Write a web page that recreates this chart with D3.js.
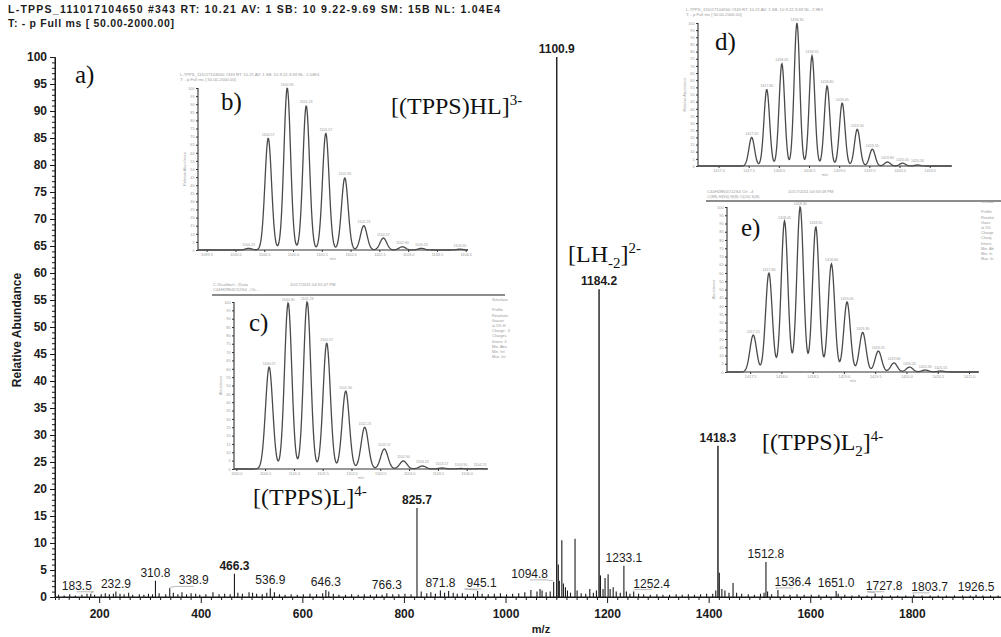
<!DOCTYPE html>
<html>
<head>
<meta charset="utf-8">
<script src="https://cdn.jsdelivr.net/npm/d3@7"></script>
<style>
body { margin: 0; background: #fff; }
svg { display: block; font-family: "Liberation Sans", Arial, sans-serif; }
</style>
</head>
<body>
<svg id="svg" width="1001" height="637"></svg>
<script>
// Full scan spectrum: centroid m/z and relative abundance
var peakMz = [120, 131, 142, 153, 166, 176, 183.5, 191, 204, 212, 220, 228, 232.9, 241, 249, 258, 266, 279, 288, 297, 305,
    310.8, 318, 331, 338.9, 346, 355, 363, 372, 381, 390, 398, 410, 424, 436, 447, 458, 466.3, 473, 482, 495, 502, 510,
    521, 530, 536.9, 545, 555, 566, 578, 590, 602, 615, 628, 640, 646.3, 652, 661, 672, 685, 697, 710, 722, 734, 746,
    757, 766.3, 778, 790, 802, 814, 825.7, 834, 845, 853, 862, 871.8, 880, 888, 897, 905, 915, 925, 937, 945.1, 954,
    966, 978, 990, 1002, 1014, 1026, 1038, 1050, 1062, 1068, 1072, 1080, 1088, 1094.8, 1100.9, 1104, 1106, 1110.9,
    1114, 1118, 1122, 1128, 1136.9, 1141, 1149, 1158, 1166, 1173, 1179, 1184.2, 1187, 1192, 1196, 1202, 1206, 1212,
    1218, 1226, 1233.1, 1238, 1245, 1252.4, 1262, 1272, 1285, 1298, 1310, 1323, 1336, 1348, 1360, 1372, 1384, 1396,
    1408, 1414, 1418.3, 1421, 1426, 1432, 1440, 1448, 1455, 1465, 1478, 1490, 1502, 1509, 1512.8, 1516, 1524, 1536.4,
    1548, 1560, 1574, 1588, 1602, 1617, 1632, 1651.0, 1655, 1668, 1682, 1696, 1712, 1727.8, 1742, 1758, 1772, 1788,
    1803.7, 1820, 1836, 1852, 1868, 1884, 1900, 1915, 1926.5, 1940, 1955, 1970, 1985];
var peakAbundance = [0.4, 0.3, 0.5, 0.3, 0.4, 0.6, 0.6, 0.4, 0.5, 0.7, 0.5, 0.6, 1.0, 0.6, 0.5, 0.8, 0.4, 0.5, 0.4, 0.6, 0.5,
    3.0, 0.7, 0.5, 1.6, 0.8, 0.5, 0.9, 0.5, 0.7, 0.6, 0.4, 0.5, 0.9, 0.5, 0.6, 0.5, 4.3, 0.8, 0.6, 0.9, 0.8, 0.6,
    0.5, 0.8, 1.6, 0.9, 0.5, 0.4, 0.5, 0.4, 0.5, 0.6, 0.5, 0.7, 1.3, 1.0, 0.6, 0.4, 0.4, 0.5, 0.4, 0.5, 0.4, 0.5,
    0.4, 0.7, 0.5, 0.5, 0.6, 0.5, 16.5, 1.0, 0.7, 0.9, 0.6, 1.2, 0.8, 1.1, 0.8, 0.6, 0.7, 0.5, 0.6, 1.1, 0.6,
    0.5, 0.6, 0.7, 0.5, 0.6, 0.7, 0.9, 1.3, 1.0, 1.5, 1.2, 0.9, 1.0, 2.8, 100, 6, 3, 10.5,
    2.5, 1.8, 1.2, 0.8, 10.8, 1.2, 0.7, 0.6, 1.5, 0.8, 1.2, 57, 4, 1.5, 3.5, 4.2, 1.5, 1.8,
    1.0, 0.8, 5.8, 1.0, 0.6, 1.0, 0.6, 0.5, 0.4, 0.5, 0.4, 0.4, 0.5, 0.4, 0.5, 0.4, 0.5, 0.6,
    0.6, 1.2, 28, 4.5, 1.5, 1.2, 0.8, 2.6, 0.8, 0.6, 0.5, 0.4, 0.6, 0.8, 6.5, 1.0, 0.5, 1.3,
    0.4, 0.4, 0.5, 0.4, 0.4, 0.4, 0.4, 1.1, 0.6, 0.4, 0.3, 0.4, 0.3, 0.6, 0.3, 0.3, 0.3, 0.3,
    0.4, 0.3, 0.3, 0.3, 0.3, 0.3, 0.3, 0.3, 0.4, 0.3, 0.3, 0.3, 0.3];

// Labelled peaks
var labelMz = [183.5, 232.9, 310.8, 338.9, 466.3, 536.9, 646.3, 766.3, 825.7, 871.8, 945.1, 1094.8, 1100.9, 1184.2,
    1233.1, 1252.4, 1418.3, 1512.8, 1536.4, 1651.0, 1727.8, 1803.7, 1926.5];
var boldLabels = [466.3, 825.7, 1100.9, 1184.2, 1418.3];

// Axis ticks
var yTicks = d3.range(0, 101, 5);
var xTicks = [200, 400, 600, 800, 1000, 1200, 1400, 1600, 1800];

// Insets: isotope patterns (centroid m/z, relative intensity)
var isoB_mz = [1100.23, 1100.57, 1100.90, 1101.23, 1101.57, 1101.90, 1102.23, 1102.57, 1102.90, 1103.23, 1103.90];
var isoB_int = [1, 69, 100, 89, 72, 44.5, 15, 7.4, 2, 1, 0.5];
var isoC_mz = [1100.57, 1100.90, 1101.23, 1101.57, 1101.90, 1102.23, 1102.57, 1102.90, 1103.23, 1103.57, 1103.90, 1104.23];
var isoC_int = [61, 99.4, 100, 75.4, 46.7, 25, 12, 4.8, 1.8, 0.6, 0.3, 0.2];
var isoD_mz = [1417.55, 1417.80, 1418.05, 1418.30, 1418.55, 1418.80, 1419.05, 1419.30, 1419.55, 1419.80, 1420.05, 1420.30];
var isoD_int = [20, 53.5, 71.5, 100, 77, 56, 44, 25.7, 11.8, 2.8, 2, 0.7];
var isoE_mz = [1417.55, 1417.80, 1418.05, 1418.30, 1418.55, 1418.80, 1419.05, 1419.30, 1419.55, 1419.80, 1420.05, 1420.30, 1420.55];
var isoE_int = [22.4, 60, 91.5, 100, 88, 65.5, 42.4, 24, 12.7, 5.5, 3, 1.2, 0.6];

// label nudges (pixels) where the instrument moved a label off its peak
var labelShift = { "183.5": -14, "338.9": 24, "945.1": 4, "1094.8": -24, "1252.4": 18, "1536.4": 15, "1727.8": 9, "1803.7": 16 };

var svg = d3.select("svg");
var ink = "#1b1b1b";

// Main scales
var x = d3.scaleLinear().domain([113, 2000]).range([55, 1013.4]);
var y = d3.scaleLinear().domain([0, 100]).range([597, 57]);

/*
HEADER
*/
svg.append("text").attr("x", 8).attr("y", 13).attr("font-size", 10.5).attr("font-weight", "bold").attr("fill", ink)
    .attr("textLength", 492).attr("lengthAdjust", "spacing")
    .text("L-TPPS_111017104650 #343   RT: 10.21   AV: 1   SB: 10  9.22-9.69   SM: 15B   NL: 1.04E4");
svg.append("text").attr("x", 8).attr("y", 27).attr("font-size", 10.5).attr("font-weight", "bold").attr("fill", ink)
    .attr("textLength", 166).attr("lengthAdjust", "spacing")
    .text("T: - p Full ms [ 50.00-2000.00]");

/*
AXES
*/
var yAxis = svg.append("g").attr("transform", "translate(55,0)")
    .call(d3.axisLeft(y).tickValues(yTicks).tickSize(5).tickPadding(3));
svg.append("g").attr("transform", "translate(55,0)")
    .call(d3.axisLeft(y).tickValues(d3.range(0, 101, 1).filter(function (d) { return d % 5; })).tickSize(3).tickFormat(""));

var xAxis = svg.append("g").attr("transform", "translate(0,597)")
    .call(d3.axisBottom(x).tickValues(xTicks).tickSize(6).tickPadding(6).tickFormat(d3.format("d")));
svg.append("g").attr("transform", "translate(0,597)")
    .call(d3.axisBottom(x).tickValues(d3.range(120, 2000, 20).filter(function (d) { return d % 200; })).tickSize(3).tickFormat(""));

svg.selectAll(".domain").attr("stroke", ink).attr("stroke-width", 1);
svg.selectAll(".tick line").attr("stroke", ink);
svg.selectAll(".tick text").attr("fill", ink).attr("font-size", 12).attr("font-weight", "bold")
    .attr("font-family", "Liberation Sans, Arial, sans-serif");
// strip outer ticks of the domain path
yAxis.select(".domain").attr("d", "M0," + y(100) + "V" + y(0));
xAxis.select(".domain").attr("d", "M55,0H1001");

svg.append("text").attr("transform", "translate(21,330) rotate(-90)").attr("text-anchor", "middle")
    .attr("font-size", 12).attr("font-weight", "bold").attr("fill", ink).text("Relative Abundance");
svg.append("text").attr("x", 541).attr("y", 633).attr("text-anchor", "middle")
    .attr("font-size", 11).attr("font-weight", "bold").attr("fill", ink).text("m/z");

/*
SPECTRUM
*/
var sticks = svg.append("g");
for (var i = 0; i < peakMz.length; i++) {
    sticks.append("line")
        .attr("x1", x(peakMz[i])).attr("x2", x(peakMz[i]))
        .attr("y1", y(0)).attr("y2", y(peakAbundance[i]))
        .attr("stroke", ink).attr("stroke-width", peakAbundance[i] > 20 ? 1.4 : 1.1);
}

// peak labels
for (var j = 0; j < labelMz.length; j++) {
    var m = labelMz[j];
    var a = peakAbundance[peakMz.indexOf(m)];
    var key = m.toFixed(1);
    var dx = labelShift[key] || 0;
    var px = x(m), py = y(a);
    if (dx !== 0) {
        var lx = px + dx + (dx > 0 ? -17 : 17);
        svg.append("polyline")
            .attr("points", px + "," + (py - 1) + " " + lx + "," + (py - 2) + " " + (px + dx) + "," + (py - 2))
            .attr("fill", "none").attr("stroke", "#aaa").attr("stroke-width", 0.8);
    }
    svg.append("text")
        .attr("x", px + dx).attr("y", py - 4)
        .attr("text-anchor", "middle")
        .attr("font-size", 12)
        .attr("font-weight", boldLabels.indexOf(m) >= 0 ? "bold" : "normal")
        .attr("fill", ink)
        .text(key);
}

/*
ANNOTATIONS
*/
function ionLabel(xp, yp, parts) {
    var t = svg.append("text").attr("x", xp).attr("y", yp)
        .attr("font-family", "Liberation Serif, Times New Roman, serif").attr("font-size", 24).attr("fill", "#111");
    var shift = 0;
    parts.forEach(function (p) {
        var dy = (p[1] === "sup" ? -9 : p[1] === "sub" ? 6 : 0) - shift;
        shift += dy;
        t.append("tspan").attr("dy", dy).attr("font-size", p[1] ? 15 : 24).text(p[0]);
    });
}
ionLabel(391, 114, [["[(TPPS)HL]"], ["3-", "sup"]]);
ionLabel(568, 262, [["[LH"], ["-2", "sub"], ["]"], ["2-", "sup"]]);
ionLabel(762, 450, [["[(TPPS)L"], ["2", "sub"], ["]"], ["4-", "sup"]]);
ionLabel(253, 505, [["[(TPPS)L]"], ["4-", "sup"]]);

function panelLetter(xp, yp, s) {
    svg.append("text").attr("x", xp).attr("y", yp)
        .attr("font-family", "Liberation Serif, Times New Roman, serif").attr("font-size", 25).attr("fill", "#111").text(s);
}
panelLetter(75, 83, "a)");

/*
INSETS
*/
function drawInset(o) {
    var g = svg.append("g");
    var ix = d3.scaleLinear().domain(o.domain).range([o.left, o.right]);
    var iy = d3.scaleLinear().domain([0, 100]).range([o.bottom, o.top]);
    var grey = "#9a9a9a";

    // titles
    o.title.forEach(function (s, k) {
        g.append("text").attr("x", s[0]).attr("y", s[1]).attr("font-size", 4.2).attr("fill", grey).text(s[2]);
    });
    if (o.rule) {
        g.append("line").attr("x1", o.rule[0]).attr("x2", o.rule[1]).attr("y1", o.rule[2]).attr("y2", o.rule[2])
            .attr("stroke", "#666").attr("stroke-width", 1.4);
    }
    if (o.notes) {
        o.notes.lines.forEach(function (s, k) {
            g.append("text").attr("x", o.notes.x).attr("y", o.notes.y + k * 5.2).attr("font-size", 3.8).attr("fill", grey).text(s);
        });
    }

    // axes
    var ya = g.append("g").attr("transform", "translate(" + o.left + ",0)")
        .call(d3.axisLeft(iy).tickValues(d3.range(0, 101, 5)).tickSize(2).tickPadding(1.5));
    var xa = g.append("g").attr("transform", "translate(0," + o.bottom + ")")
        .call(d3.axisBottom(ix).ticks(9).tickSize(2).tickPadding(1.5).tickFormat(d3.format(".1f")));
    g.selectAll(".domain").attr("stroke", "#333").attr("stroke-width", 1.1);
    ya.select(".domain").attr("d", "M0," + o.top + "V" + o.bottom);
    xa.select(".domain").attr("d", "M" + o.left + ",0H" + o.right);
    g.selectAll(".tick line").attr("stroke", "#333");
    g.selectAll(".tick text").attr("font-size", 3.8).attr("fill", grey).attr("font-weight", "normal");
    g.append("text").attr("transform", "translate(" + (o.left - 12) + "," + ((o.top + o.bottom) / 2) + ") rotate(-90)")
        .attr("text-anchor", "middle").attr("font-size", 3.8).attr("fill", grey).text(o.yTitle);
    g.append("text").attr("x", (o.left + o.right) / 2).attr("y", o.bottom + 10)
        .attr("text-anchor", "middle").attr("font-size", 3.8).attr("fill", grey).text("m/z");

    // profile built from centroid peaks
    var pxPerUnit = (o.right - o.left) / (o.domain[1] - o.domain[0]);
    var sigma = o.sigmaPx / pxPerUnit;
    var samples = d3.range(o.domain[0], o.domain[1], 0.5 / pxPerUnit);
    var profile = samples.map(function (mz) {
        var s = 0;
        for (var k = 0; k < o.mz.length; k++) {
            var d = mz - o.mz[k];
            s += o.int[k] * Math.exp(-d * d / (2 * sigma * sigma));
        }
        return [mz, Math.min(s, 100)];
    });
    g.append("path").datum(profile)
        .attr("d", d3.line().x(function (d) { return ix(d[0]); }).y(function (d) { return iy(d[1]); }))
        .attr("fill", "none").attr("stroke", "#4a4a4a").attr("stroke-width", 1.3);

    // peak labels
    for (var k = 0; k < o.mz.length; k++) {
        g.append("text").attr("x", ix(o.mz[k])).attr("y", iy(o.int[k]) - 2.5).attr("text-anchor", "middle")
            .attr("font-size", 3.6).attr("fill", grey).text(o.mz[k].toFixed(2));
    }
    panelLetter(o.letter[0], o.letter[1], o.letter[2]);
}

drawInset({
    mz: isoB_mz, int: isoB_int, domain: [1099.35, 1104.04],
    left: 198, right: 468, top: 88, bottom: 250, sigmaPx: 3.3,
    yTitle: "Relative Abundance", letter: [221, 110, "b)"],
    title: [[180, 76, "L-TPPS_111017104650 #343 RT: 10.21 AV: 1 SB: 10 9.22-9.69 NL: 1.04E4"],
        [180, 81, "T: - p Full ms [ 50.00-2000.00]"]]
});
drawInset({
    mz: isoC_mz, int: isoC_int, domain: [1099.96, 1104.37],
    left: 234, right: 488, top: 302, bottom: 469, sigmaPx: 3.6,
    yTitle: "Abundance", letter: [249, 331, "c)"],
    title: [[213, 286, "C:\\Xcalibur\\...\\Data"], [213, 291, "C44H29N4O12S4 ..Ch..."], [290, 286, "10/17/2011 04:51:07 PM"]],
    rule: [212, 505, 295],
    notes: { x: 492, y: 301, lines: ["Simulatio", "", "Profile", "Resolutio", "  Gaussi", "  at 5% H", "Charge: -3", "Charges", "Intens: 0", "Min. Abu", "Min. Int", "Max. Int"] }
});
drawInset({
    mz: isoD_mz, int: isoD_int, domain: [1416.66, 1420.87],
    left: 698, right: 952, top: 23, bottom: 166, sigmaPx: 2.8,
    yTitle: "Relative Abundance", letter: [715, 50, "d)"],
    title: [[686, 11, "L-TPPS_111017104650 #343 RT: 10.21 AV: 1 SB: 10 9.22-9.69 NL: 2.9E3"],
        [686, 16, "T: - p Full ms [ 50.00-2000.00]"]]
});
drawInset({
    mz: isoE_mz, int: isoE_int, domain: [1417.13, 1421.16],
    left: 727, right: 979, top: 207, bottom: 372, sigmaPx: 3.3,
    yTitle: "Abundance", letter: [741, 236, "e)"],
    title: [[707, 193, "C44H28N4O12S4 Ch: -4"], [707, 198, "C(88) H(56) N(8) O(24) S(8)"], [788, 193, "10/17/2011 04:53:09 PM"]],
    rule: [706, 1001, 201],
    notes: { x: 981, y: 203, lines: ["Simulat", "", "Profile", "Resolut", " Gaus", " at 5%", "Charge", "Charg", "Intens", "Min. Ab", "Min. In", "Max. In"] }
});
</script>
</body>
</html>
